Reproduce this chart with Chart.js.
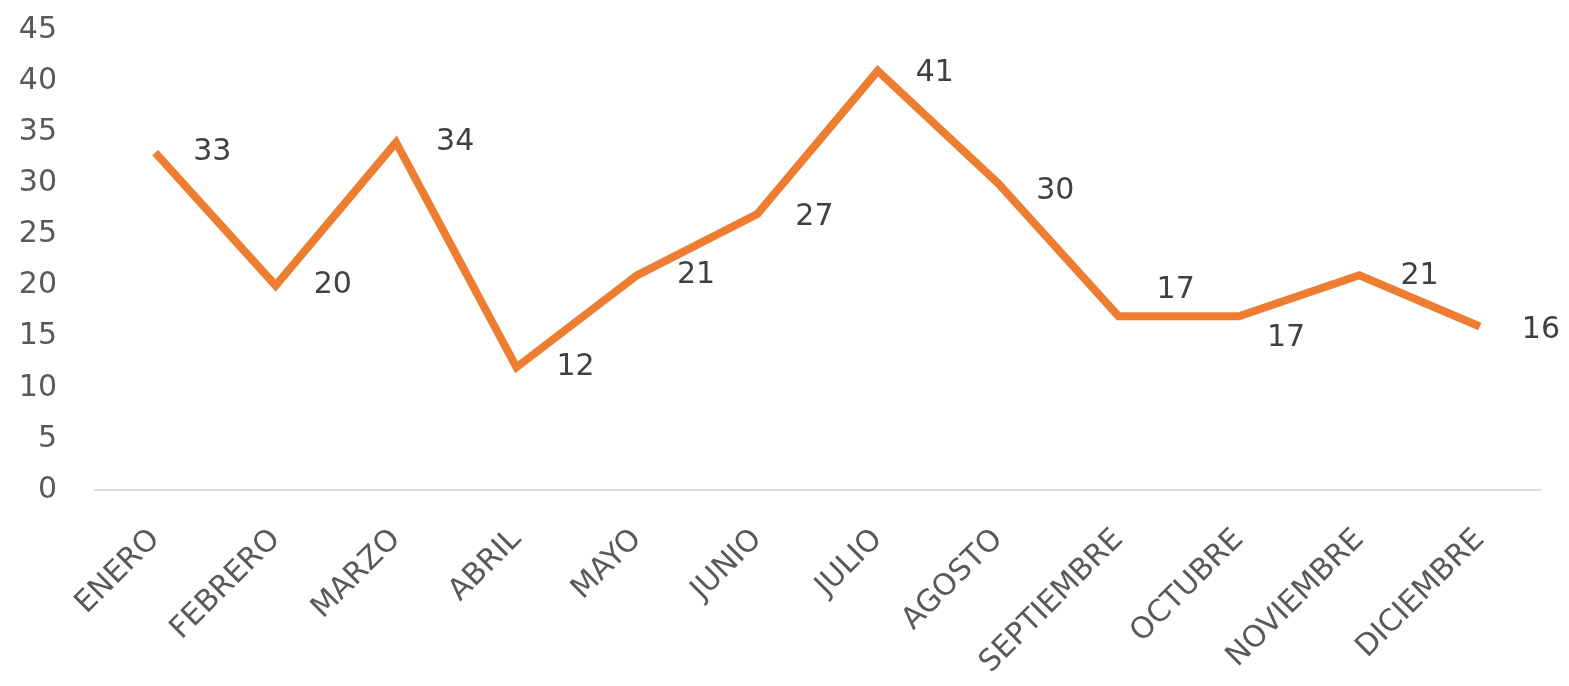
<!DOCTYPE html>
<html>
<head>
<meta charset="utf-8">
<script src="https://cdn.jsdelivr.net/npm/chart.js@4.4.1/dist/chart.umd.min.js"></script>
<style>
  html, body { margin: 0; padding: 0; background: #fff; }
  #wrap { width: 1569px; height: 686px; }
</style>
</head>
<body>
<div id="wrap"><canvas id="lineChart"></canvas></div>
<script>
// data
const meses = ['ENERO', 'FEBRERO', 'MARZO', 'ABRIL', 'MAYO', 'JUNIO', 'JULIO',
  'AGOSTO', 'SEPTIEMBRE', 'OCTUBRE', 'NOVIEMBRE', 'DICIEMBRE'];
const valores = [33, 20, 34, 12, 21, 27, 41, 30, 17, 17, 21, 16];
const yMin = 0, yMax = 45, yStep = 5;

// posisi label data (relatif ke titik), hanya gaya
const labelDx = [38, 38, 40, 40, 40, 38, 38, 38, 38, 28, 41, 42];
const labelDy = [0, 0, 0, 0, 0, 3, 2, 8, -26, 22, 1, 4];

const fontFam = '"DejaVu Sans", sans-serif';

const dataLabels = {
  id: 'dataLabels',
  afterDatasetsDraw(chart) {
    const ctx = chart.ctx;
    const meta = chart.getDatasetMeta(0);
    ctx.save();
    ctx.font = '30px ' + fontFam;
    ctx.fillStyle = '#404040';
    ctx.textAlign = 'left';
    ctx.textBaseline = 'middle';
    meta.data.forEach((pt, i) => {
      ctx.fillText(String(valores[i]), pt.x + labelDx[i], pt.y + labelDy[i]);
    });
    ctx.restore();
  }
};

new Chart(document.getElementById('lineChart'), {
  type: 'line',
  data: {
    labels: meses,
    datasets: [{
      data: valores,
      borderColor: '#ED7D31',
      borderWidth: 8,
      pointRadius: 0,
      tension: 0,
      fill: false,
      borderJoinStyle: 'miter'
    }]
  },
  options: {
    responsive: true,
    maintainAspectRatio: false,
    animation: false,
    layout: { padding: { top: 30, right: 29, left: 0, bottom: 0 } },
    plugins: { legend: { display: false }, tooltip: { enabled: false } },
    scales: {
      x: {
        offset: true,
        grid: { display: false, drawTicks: false },
        border: { display: true, color: '#d9d9d9', width: 2 },
        ticks: {
          color: '#595959',
          font: { family: fontFam, size: 30 },
          minRotation: 45,
          maxRotation: 45,
          padding: 32
        },
        afterFit(scale) { scale.height = 196; scale.paddingTop = 0; scale.paddingBottom = 0; }
      },
      y: {
        min: yMin,
        max: yMax,
        grid: { display: false, drawTicks: false },
        border: { display: false },
        ticks: {
          stepSize: yStep,
          color: '#595959',
          font: { family: fontFam, size: 30 },
          padding: 38
        },
        afterFit(scale) { scale.width = 95; scale.paddingTop = 0; scale.paddingBottom = 0; }
      }
    }
  },
  plugins: [dataLabels]
});
</script>
</body>
</html>
